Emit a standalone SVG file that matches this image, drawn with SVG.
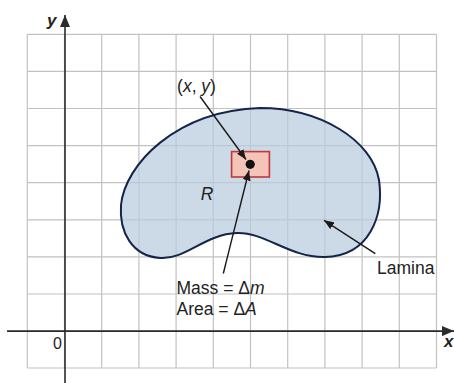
<svg xmlns="http://www.w3.org/2000/svg" width="454" height="383" viewBox="0 0 454 383">
<style>
.grid line{stroke:#c2c2c2;stroke-width:1.2}
.axis{stroke:#2b2b2b;stroke-width:1.6;fill:none}
.lbl{font-family:"Liberation Sans",Arial,sans-serif;font-size:17.5px;fill:#222}
.ax{font-family:"Liberation Sans",Arial,sans-serif;font-size:17px;font-weight:bold;font-style:italic;fill:#222}
.conn{stroke:#1a1a1a;stroke-width:1.4;fill:none}
</style>
<defs>
<marker id="ah" viewBox="0 0 10 8" refX="10" refY="4" markerWidth="10" markerHeight="8" markerUnits="userSpaceOnUse" orient="auto">
<path d="M0,0 L10,4 L0,8 Z" fill="#1a1a1a"/>
</marker>
<marker id="axh" viewBox="0 0 12 10" refX="12" refY="5" markerWidth="12" markerHeight="10" markerUnits="userSpaceOnUse" orient="auto">
<path d="M0,0 L12,5 L0,10 Z" fill="#2b2b2b"/>
</marker>
</defs>
<rect width="454" height="383" fill="#ffffff"/>
<g id="grid" class="grid">
<line x1="27.3" y1="34.3" x2="27.3" y2="368"/>
<line x1="64.5" y1="34.3" x2="64.5" y2="368"/>
<line x1="101.7" y1="34.3" x2="101.7" y2="368"/>
<line x1="138.9" y1="34.3" x2="138.9" y2="368"/>
<line x1="176.1" y1="34.3" x2="176.1" y2="368"/>
<line x1="213.3" y1="34.3" x2="213.3" y2="368"/>
<line x1="250.5" y1="34.3" x2="250.5" y2="368"/>
<line x1="287.7" y1="34.3" x2="287.7" y2="368"/>
<line x1="324.9" y1="34.3" x2="324.9" y2="368"/>
<line x1="362.1" y1="34.3" x2="362.1" y2="368"/>
<line x1="399.3" y1="34.3" x2="399.3" y2="368"/>
<line x1="436.5" y1="34.3" x2="436.5" y2="368"/>
<line x1="27.3" y1="34.3" x2="436.5" y2="34.3"/>
<line x1="27.3" y1="71.4" x2="436.5" y2="71.4"/>
<line x1="27.3" y1="108.5" x2="436.5" y2="108.5"/>
<line x1="27.3" y1="145.6" x2="436.5" y2="145.6"/>
<line x1="27.3" y1="182.7" x2="436.5" y2="182.7"/>
<line x1="27.3" y1="219.8" x2="436.5" y2="219.8"/>
<line x1="27.3" y1="256.9" x2="436.5" y2="256.9"/>
<line x1="27.3" y1="294" x2="436.5" y2="294"/>
<line x1="27.3" y1="331.1" x2="436.5" y2="331.1"/>
<line x1="27.3" y1="368" x2="436.5" y2="368"/>
</g>
<g id="axes">
<line class="axis" x1="65" y1="383" x2="65" y2="15" marker-end="url(#axh)"/>
<line class="axis" x1="7" y1="331.1" x2="454" y2="331.1" marker-end="url(#axh)"/>
<text class="ax" x="47" y="26">y</text>
<text class="ax" x="444" y="347">x</text>
<text class="lbl" x="53" y="349" style="font-size:16px">0</text>
</g>
<g id="lamina">
<path d="M260,108 C320,108 372,140 379,180 C384,215 370,256 325,257 C290,258 265,232 237,233 C205,234 185,260 160,258 C132,256 119,232 121,205 C125,165 175,111 260,108 Z" fill="#b9cadd" fill-opacity="0.72" stroke="#14254a" stroke-width="2"/>
<text class="lbl" x="207" y="200" text-anchor="middle" font-style="italic">R</text>
</g>
<g id="element">
<rect x="231.6" y="151.6" width="37.8" height="25.4" fill="#f4c4b9" stroke="#c0383a" stroke-width="1.6"/>
<circle cx="250.2" cy="164.3" r="4.6" fill="#111"/>
</g>
<g id="label-xy">
<text class="lbl" x="196.5" y="91.5" text-anchor="middle">(<tspan font-style="italic">x</tspan>, <tspan font-style="italic">y</tspan>)</text>
</g>
<g id="label-mass">
<text class="lbl" x="176.5" y="293.5">Mass = Δ<tspan font-style="italic">m</tspan></text>
<text class="lbl" x="176.5" y="315">Area = Δ<tspan font-style="italic">A</tspan></text>
</g>
<g id="label-lamina">
<text class="lbl" x="377" y="273.5">Lamina</text>
</g>
<g id="connectors">
<line class="conn" x1="200" y1="96.5" x2="246" y2="159.5" marker-end="url(#ah)"/>
<line class="conn" x1="223.3" y1="273.5" x2="249" y2="170.5" marker-end="url(#ah)"/>
<line class="conn" x1="375.3" y1="253.7" x2="324" y2="220.3" marker-end="url(#ah)"/>
</g>
</svg>
